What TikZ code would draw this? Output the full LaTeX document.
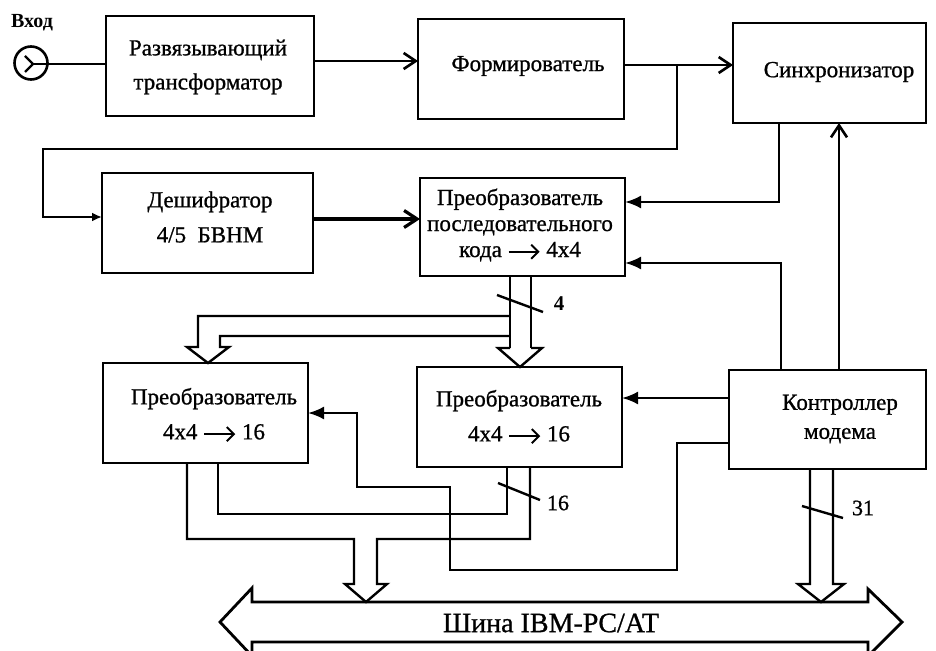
\documentclass[tikz,border=0pt]{standalone}
\usepackage{fontspec}
\setmainfont{Liberation Serif}
\newfontfamily\scanfont[FakeBold=0.9]{Liberation Serif}
\usetikzlibrary{arrows.meta,calc}
\newcommand\txtarrow{\tikz[baseline=-0.5ex]\draw[line width=2pt,-{Straight Barb[length=7pt,width=14pt,line width=2pt]}] (0pt,0pt) -- (31pt,0pt);}
\begin{document}
\begin{tikzpicture}[x=1pt,y=-1pt,
  box/.style={draw,line width=2.8pt,inner sep=0pt,outer sep=0pt},
  txt/.style={font=\scanfont\fontsize{23}{34}\selectfont,align=center,inner sep=0pt},
  lbl/.style={font=\scanfont\fontsize{22}{24}\selectfont,inner sep=0pt},
  conn/.style={line width=2.4pt},
  barb/.style={-{Straight Barb[length=12pt,width=16pt,line width=2.6pt]}},
  tri/.style={-{Latex[length=16pt,width=13pt]}},
  bus/.style={line width=2.4pt,line join=miter}]
\useasboundingbox (0,0) rectangle (936,650);
% boxes
\node[box,minimum width=208pt,minimum height=100pt] (b1) at (210,66) {};
\node[box,minimum width=206pt,minimum height=100pt] (b2) at (521,69) {};
\node[box,minimum width=193pt,minimum height=100pt] (b3) at (829.5,73) {};
\node[box,minimum width=211pt,minimum height=100pt] (b4) at (207.5,223) {};
\node[box,minimum width=205pt,minimum height=98pt] (b5) at (522.5,227) {};
\node[box,minimum width=205pt,minimum height=100pt] (b6) at (205.5,413) {};
\node[box,minimum width=205pt,minimum height=100pt] (b7) at (519.5,417) {};
\node[box,minimum width=197pt,minimum height=99pt] (b8) at (827.5,419.5) {};
% texts
\node[txt] (t1) at (208,67) {Развязывающий\\трансформатор};
\node[txt] (t2) at (528,66) {Формирователь};
\node[txt] (t3) at (839,72) {Синхронизатор};
\node[txt,font=\scanfont\fontsize{23}{35}\selectfont] (t4) at (210,217) {Дешифратор\\4/5\ \ БВНМ};
\node[txt,font=\scanfont\fontsize{23}{26}\selectfont] (t5) at (520,225) {Преобразователь\\последовательного\\кода \txtarrow\ 4x4};
\node[txt,font=\scanfont\fontsize{23}{35}\selectfont] (t6) at (214,415) {Преобразователь\\4x4 \txtarrow\ 16};
\node[txt,font=\scanfont\fontsize{23}{35}\selectfont] (t7) at (519,417) {Преобразователь\\4x4 \txtarrow\ 16};
\node[txt,font=\scanfont\fontsize{23}{29}\selectfont] (t8) at (840,419) {Контроллер\\модема};
% input
\node[font=\fontsize{20}{22}\selectfont\bfseries,inner sep=0pt] (vx) at (32,23) {Вход};
\node[draw,circle,line width=2.6pt,minimum size=33pt,inner sep=0pt] (in) at (31,63) {};
\draw[conn] ($(in.center)+(-6,-7)$) -- ($(in.center)+(2,1)$) -- ($(in.center)+(-6,9)$);
\draw[conn] ($(in.center)+(2,1)$) -- (b1.west|-0,64);
% main chain
\draw[conn,barb] (b1.east|-0,61) -- (b2.west|-0,61);
\draw[conn,barb] (b2.east|-0,65) -- (b3.west|-0,65);
\coordinate (j1) at (677,65);
\draw[conn,-{Latex[length=10pt,width=9pt]}] (j1) -- (677,149) -- (43,149) -- (43,217) -- (b4.west|-0,217);
\draw[line width=4.2pt,-{Straight Barb[length=13pt,width=17pt,line width=3.2pt]}] (b4.east|-0,219) -- (b5.west|-0,219);
\draw[conn,tri] (b3.south-|779,0) -- (779,202) -- (b5.east|-0,202);
\draw[conn,tri] (b8.north-|781,0) -- (781,263) -- (b5.east|-0,263);
\draw[conn,barb] (b8.north-|839,0) -- (b3.south-|839,0);
\draw[conn,tri] (b8.west|-0,398) -- (b7.east|-0,398);
\draw[conn,tri] (b8.west|-0,443) -- (677,443) -- (677,570) -- (450,570) -- (450,487) -- (357,487) -- (357,413) -- (b6.east|-0,413);
% bus from b5
\draw[bus] (b5.south-|510,0) -- (510,348);
\draw[bus] (b5.south-|531,0) -- (531,348);
\draw[bus] (510,348) -- (498,348) -- (b7.north-|520,0) -- (542,348) -- (531,348);
\draw[bus] (510,316) -- (198,316) -- (198,347) -- (187,347) -- (b6.north-|208,0) -- (229,347) -- (220,347) -- (220,336) -- (510,336);
\draw[conn] (497,295) -- (543,312);
\node[lbl,font=\fontsize{21}{22}\selectfont\bfseries] (n4) at (559,304) {4};
% buses to main bus
\draw[bus] (b6.south-|187,0) -- (187,539) -- (354,539) -- (354,584) -- (345,584) -- (366,602) -- (387,584) -- (377,584) -- (377,539) -- (530,539) -- (b7.south-|530,0);
\draw[bus] (b6.south-|218,0) -- (218,514) -- (507,514) -- (b7.south-|507,0);
\draw[conn] (498,483) -- (540,500);
\node[lbl] (n16) at (558,503) {16};
\draw[bus] (b8.south-|810,0) -- (810,584) -- (798,584) -- (821,602) -- (844,584) -- (833,584) -- (b8.south-|833,0);
\draw[conn] (802,506) -- (843,518);
\node[lbl] (n31) at (863,508) {31};
% main bus
\draw[line width=2.8pt,line join=miter] (220,622) -- (252,588) -- (252,602) -- (868,602) -- (868,589) -- (902,622) -- (868,656) -- (868,642) -- (252,642) -- (252,656) -- cycle;
\node[txt,font=\scanfont\fontsize{28}{30}\selectfont] (bt) at (551,623) {Шина IBM-PC/AT};
\end{tikzpicture}
\end{document}
